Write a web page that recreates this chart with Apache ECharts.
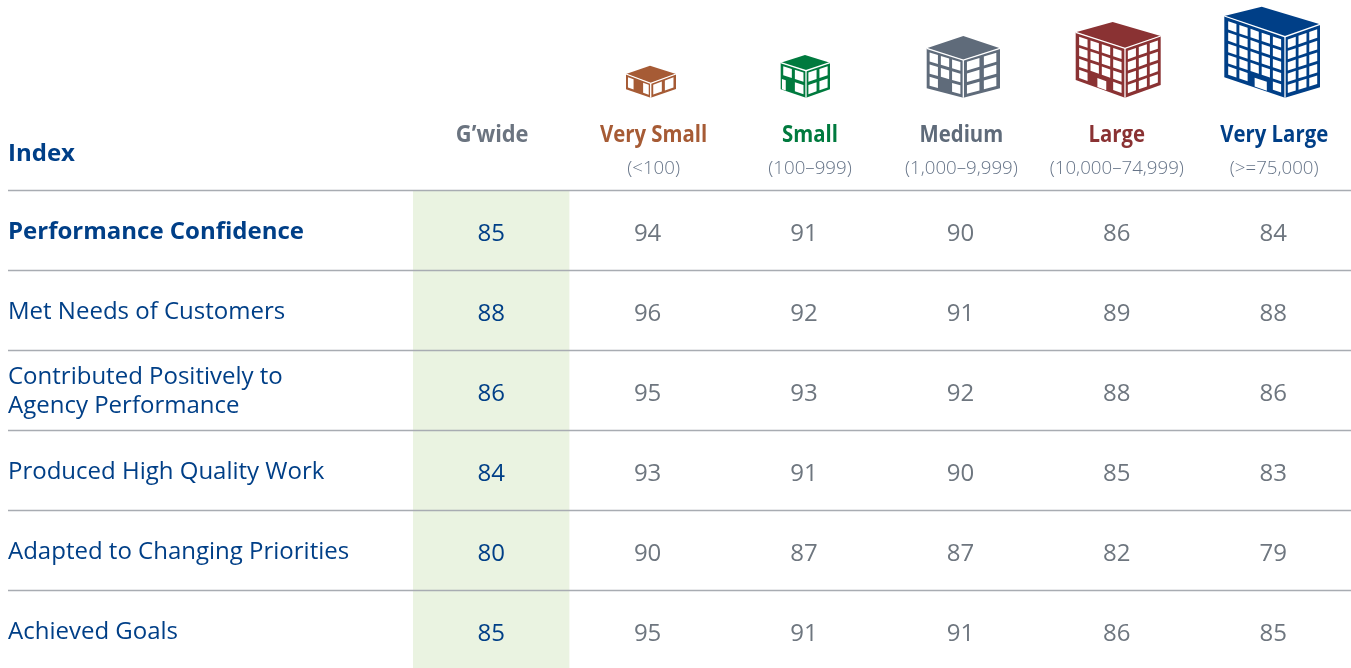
<!DOCTYPE html>
<html>
<head>
<meta charset="utf-8">
<style>
  html, body { margin: 0; padding: 0; background: #fff; }
  #main { width: 1351px; height: 668px; }
</style>
<script src="https://cdn.jsdelivr.net/npm/echarts@6/dist/echarts.min.js"></script>
</head>
<body>
<div id="main"></div>
<script>
var groupNames = ["G\u2019wide", "Very Small", "Small", "Medium", "Large", "Very Large"];
var groupRanges = ["", "(<100)", "(100\u2013999)", "(1,000\u20139,999)", "(10,000\u201374,999)", "(>=75,000)"];
var rowNames = [
  "Performance Confidence",
  "Met Needs of Customers",
  "Contributed Positively to\nAgency Performance",
  "Produced High Quality Work",
  "Adapted to Changing Priorities",
  "Achieved Goals"
];
var gwide = [85, 88, 86, 84, 80, 85];
var verySmall = [94, 96, 95, 93, 90, 95];
var small = [91, 92, 93, 91, 87, 91];
var medium = [90, 91, 92, 90, 87, 91];
var large = [86, 89, 88, 85, 82, 86];
var veryLarge = [84, 88, 86, 83, 79, 85];

var BLUE = "#003f87";
var GREY = "#6e767f";
var RANGE = "#667488";
var groupColors = ["#6b7480", "#a65b35", "#007a3e", "#5f6b7a", "#8a3233", BLUE];
var FONT = '"Open Sans", "Noto Sans", sans-serif';

var columns = [gwide, verySmall, small, medium, large, veryLarge];
var cells = [];
columns.forEach(function (col, c) {
  col.forEach(function (v, r) {
    cells.push([groupNames[c], rowNames[r], v]);
  });
});

// building icons in the header
var icons = [
  { color: groupColors[1], top: [650, 65.7], left: [626, 74], right: [676, 74], front: [650.7, 83.3], foot: [650.7, 97.7], footL: [626, 89.3], footR: [676, 89], lc: 3, rc: 2, rows: 1, skip: [1] },
  { color: groupColors[2], top: [805, 55], left: [780.7, 62.7], right: [830, 62.7], front: [806, 70.7], foot: [806, 97.7], footL: [780.7, 89.3], footR: [830, 89.3], lc: 2, rc: 2, rows: 2, skip: [0], door: [0.05, 0.2] },
  { color: groupColors[3], top: [963.3, 36], left: [926.7, 48.3], right: [1000, 48.3], front: [963.3, 60], foot: [963.3, 97.7], footL: [926.7, 88.3], footR: [1000, 88.3], lc: 3, rc: 2, rows: 3, skip: [1] },
  { color: groupColors[4], top: [1112.7, 22], left: [1075.7, 32.3], right: [1160.7, 36], front: [1125, 48.3], foot: [1125, 97.7], footL: [1075.7, 80], footR: [1160.7, 85], lc: 4, rc: 3, rows: 4, skip: [1, 2], door: [0.44, 0.62] },
  { color: groupColors[5], top: [1261.7, 6.7], left: [1224.3, 16], right: [1320, 24.3], front: [1285, 36.7], foot: [1285, 97.7], footL: [1224.3, 77.3], footR: [1320, 87.3], lc: 5, rc: 3, rows: 5, skip: [2, 3], door: [0.5, 0.7] }
];

function bilerp(tl, tr, br, bl, u, v) {
  var ax = tl[0] + (tr[0] - tl[0]) * u, ay = tl[1] + (tr[1] - tl[1]) * u;
  var bx = bl[0] + (br[0] - bl[0]) * u, by = bl[1] + (br[1] - bl[1]) * u;
  return [ax + (bx - ax) * v, ay + (by - ay) * v];
}

function poly(points, fill) {
  return { type: "polygon", silent: true, shape: { points: points }, style: { fill: fill } };
}

function whiteLine(points) {
  return {
    type: "polyline",
    silent: true,
    shape: { points: points },
    style: { fill: null, stroke: "#fff", lineWidth: 1.3 }
  };
}

function quad(f, u0, u1, v0, v1) {
  return [
    bilerp(f[0], f[1], f[2], f[3], u0, v0),
    bilerp(f[0], f[1], f[2], f[3], u1, v0),
    bilerp(f[0], f[1], f[2], f[3], u1, v1),
    bilerp(f[0], f[1], f[2], f[3], u0, v1)
  ];
}

function windows(f, cols, rows, skip, out) {
  var inset = 0.04, gap = 0.13, span = 1 - inset * 2;
  for (var c = 0; c < cols; c++) {
    for (var r = 0; r < rows; r++) {
      if (skip && r === rows - 1 && skip.indexOf(c) !== -1) continue;
      out.push(poly(quad(f,
        inset + span * (c + gap) / cols, inset + span * (c + 1 - gap) / cols,
        inset + span * (r + gap) / rows, inset + span * (r + 1 - gap) / rows), "#fff"));
    }
  }
}

function buildIcon(ic) {
  var out = [];
  var lf = [ic.left, ic.front, ic.foot, ic.footL];
  var rf = [ic.front, ic.right, ic.footR, ic.foot];
  out.push(poly(lf, ic.color));
  out.push(poly(rf, ic.color));
  windows(lf, ic.lc, ic.rows, ic.skip, out);
  windows(rf, ic.rc, ic.rows, null, out);
  if (ic.door) {
    out.push(poly(quad(lf, ic.door[0], ic.door[1], 1 - 0.8 / ic.rows, 0.985), "#fff"));
  }
  out.push(poly([ic.top, ic.right, ic.front, ic.left], ic.color));
  out.push(whiteLine([ic.left, ic.front, ic.right]));
  out.push(whiteLine([ic.front, ic.foot]));
  return { type: "group", silent: true, children: out };
}

var chart = echarts.init(document.getElementById("main"));

// Very Small and Small sit a little right of their columns in the original
var headerShift = [1, 6, 6, 1, 0, 1];
var headerSqueeze = [0.95, 0.885, 0.885, 0.885, 0.885, 0.885];

chart.setOption({
  animation: false,
  backgroundColor: "#fff",
  textStyle: { fontFamily: FONT },
  title: {
    text: "Index",
    left: 8,
    top: 139,
    padding: 0,
    textStyle: { fontFamily: FONT, fontSize: 24, fontWeight: 700, color: BLUE, lineHeight: 30 }
  },
  grid: { left: 413, top: 190, width: 938.4, height: 480, outerBoundsMode: "none" },
  xAxis: {
    type: "category",
    position: "top",
    data: groupNames,
    axisLine: { show: false },
    axisTick: { show: false },
    splitLine: { show: false },
    axisLabel: { show: false }
  },
  yAxis: {
    type: "category",
    inverse: true,
    data: rowNames,
    axisLine: { show: false },
    axisTick: { show: false },
    splitLine: { show: false },
    axisLabel: {
      align: "left",
      margin: 405,
      interval: 0,
      fontFamily: FONT,
      fontSize: 24,
      lineHeight: 29,
      color: BLUE,
      padding: [4, 0, 0, 0],
      formatter: function (value, index) {
        return index === 0 ? "{b|" + value + "}" : value;
      },
      rich: {
        b: { fontFamily: FONT, fontSize: 24, fontWeight: 700, color: BLUE, lineHeight: 29 }
      }
    }
  },
  graphic: icons.map(buildIcon),
  series: [
    {
      // green band behind the G'wide column
      type: "custom",
      name: "band",
      z: 1,
      silent: true,
      clip: false,
      data: gwide.map(function (v, r) { return [groupNames[0], rowNames[r]]; }),
      encode: { x: 0, y: 1 },
      renderItem: function (params, api) {
        var p = api.coord([api.value(0), api.value(1)]);
        var s = api.size([1, 1]);
        return {
          type: "rect",
          shape: { x: p[0] - s[0] / 2, y: p[1] - s[1] / 2, width: s[0], height: s[1] },
          style: { fill: "#eaf3e1" }
        };
      }
    },
    {
      // row rules run across the label column too
      type: "custom",
      name: "rules",
      z: 2,
      silent: true,
      clip: false,
      data: rowNames.map(function (n) { return [groupNames[0], n]; }),
      encode: { x: 0, y: 1 },
      renderItem: function (params, api) {
        var p = api.coord([api.value(0), api.value(1)]);
        var s = api.size([1, 1]);
        var y = Math.round(p[1] - s[1] / 2) + 0.5;
        return {
          type: "line",
          shape: { x1: 8, y1: y, x2: 1351, y2: y },
          style: { stroke: "#a8acb2", lineWidth: 1.5 }
        };
      }
    },
    {
      // column headers, squeezed because no condensed font is installed
      type: "custom",
      name: "headers",
      z: 3,
      silent: true,
      clip: false,
      data: groupNames.map(function (n) { return [n, rowNames[0]]; }),
      encode: { x: 0, y: 1 },
      renderItem: function (params, api) {
        var i = params.dataIndex;
        var p = api.coord([api.value(0), api.value(1)]);
        var s = api.size([1, 1]);
        var rowTop = p[1] - s[1] / 2;
        var cx = p[0] + headerShift[i];
        return {
          type: "group",
          children: [
            {
              type: "text",
              x: cx,
              y: rowTop - 55,
              scaleX: headerSqueeze[i],
              style: {
                x: 0,
                y: 0,
                text: groupNames[i],
                align: "center",
                verticalAlign: "middle",
                fontFamily: FONT,
                fontSize: 23,
                fontWeight: 700,
                fill: groupColors[i]
              }
            },
            {
              type: "text",
              style: {
                x: cx,
                y: rowTop - 21,
                text: groupRanges[i],
                align: "center",
                verticalAlign: "middle",
                fontFamily: FONT,
                fontSize: 18.7,
                fontWeight: 300,
                fill: RANGE
              }
            }
          ]
        };
      }
    },
    {
      type: "custom",
      name: "values",
      z: 3,
      silent: true,
      data: cells,
      encode: { x: 0, y: 1 },
      renderItem: function (params, api) {
        var p = api.coord([api.value(0), api.value(1)]);
        return {
          type: "text",
          style: {
            x: p[0],
            y: p[1] + 4,
            text: String(api.value(2)),
            align: "center",
            verticalAlign: "middle",
            fontFamily: FONT,
            fontSize: 24,
            fill: params.dataIndex < gwide.length ? BLUE : GREY
          }
        };
      }
    }
  ]
});
</script>
</body>
</html>
